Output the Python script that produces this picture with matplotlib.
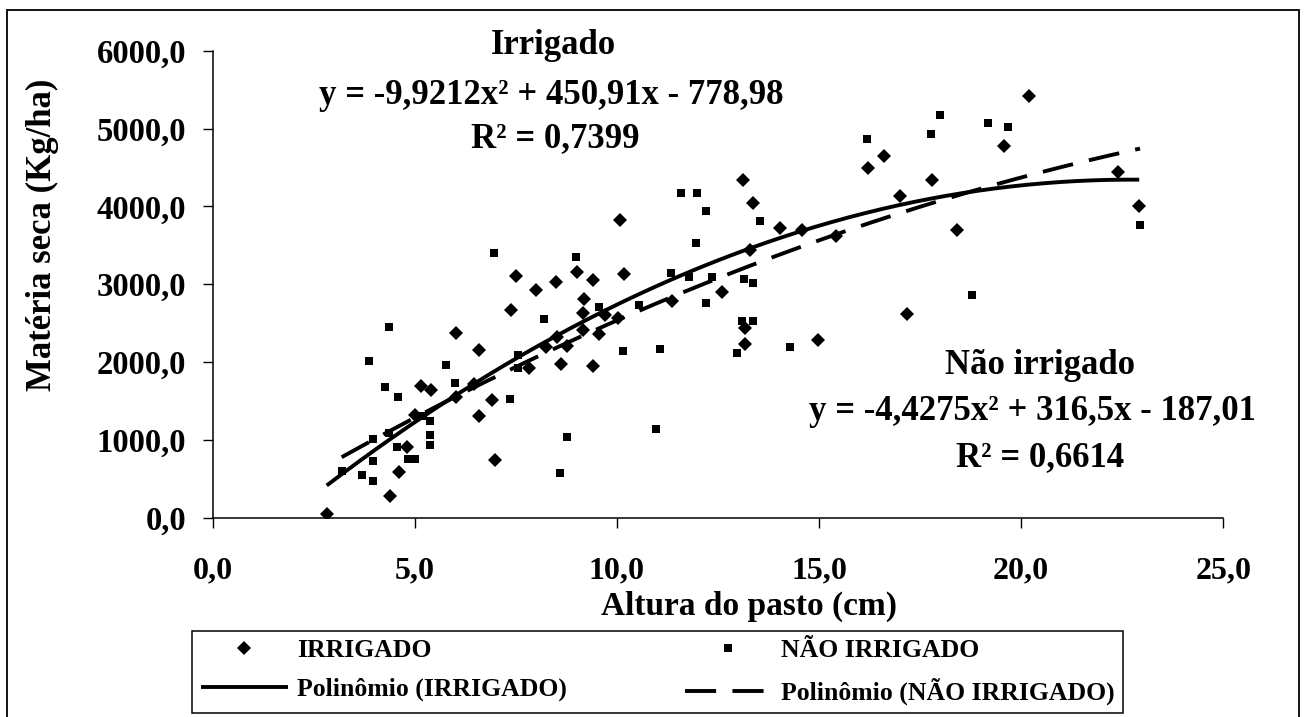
import numpy as np
import matplotlib
matplotlib.use("Agg")
import matplotlib.pyplot as plt
from matplotlib.patches import Rectangle

# ---------------- data ----------------
irr_x = [2.82, 4.39, 4.61, 4.80, 5.00, 5.16, 5.41, 6.01, 6.02, 6.59, 6.46, 6.59,
         6.92, 6.98, 7.37, 7.50, 7.83, 8.00, 8.25, 8.49, 8.51, 8.62, 8.77, 9.00,
         9.17, 9.17, 9.18, 9.40, 9.41, 9.56, 9.71, 10.03, 10.08, 10.18, 11.36,
         12.61, 13.11, 13.37, 13.29, 13.17, 13.17, 14.04, 14.57, 14.98, 15.42,
         16.21, 16.61, 17.00, 17.17, 17.79, 18.42, 19.58, 20.20, 22.40, 22.92]
irr_y = [48, 279, 583, 913, 1320, 1697, 1641, 1555, 2378, 2155, 1718, 1307,
         1513, 742, 2674, 3107, 1920, 2927, 2198, 3034, 2327, 1975, 2211, 3162,
         2413, 2627, 2807, 1954, 3055, 2357, 2605, 2563, 3824, 3132, 2785,
         2897, 4341, 4049, 3441, 2434, 2233, 3728, 3698, 2284, 3621,
         4491, 4649, 4139, 2614, 4341, 3698, 4778, 5424, 4443, 4006]

nirr_x = [3.19, 3.69, 3.86, 3.97, 3.97, 3.97, 4.25, 4.36, 4.37, 4.58, 4.57,
          4.84, 5.00, 5.20, 5.38, 5.38, 5.38, 5.77, 5.99, 6.95, 7.36, 7.56,
          7.56, 8.20, 8.59, 8.76, 8.98, 9.55, 10.16, 10.55, 10.96, 11.07, 11.34,
          11.58, 11.79, 11.96, 11.97, 12.20, 12.20, 12.36, 12.98, 13.09, 13.14,
          13.37, 13.37, 13.55, 14.28, 16.18, 17.76, 17.99, 18.78, 19.17, 19.68,
          22.94]
nirr_y = [604, 549, 2014, 1012, 733, 472, 1684, 2451, 1093, 1551, 913,
          754, 754, 1310, 1243, 1063, 935, 1959, 1727, 3402, 1526, 2091,
          1920, 2554, 570, 1037, 3351, 2708, 2142, 2730, 1140, 2168, 3145,
          4177, 3090, 3531, 4177, 3942, 2760, 3098, 2113, 2532, 3068,
          2532, 3021, 3814, 2198, 4868, 4928, 5180, 2862, 5077, 5026,
          3762]

irr_coef = [-9.9212, 450.91, -778.98]
nirr_coef = [-4.4275, 316.5, -187.01]

x_ticks = [0, 5, 10, 15, 20, 25]
x_tick_labels = ["0,0", "5,0", "10,0", "15,0", "20,0", "25,0"]
y_ticks = [0, 1000, 2000, 3000, 4000, 5000, 6000]
y_tick_labels = ["0,0", "1000,0", "2000,0", "3000,0", "4000,0", "5000,0", "6000,0"]

series_labels = ["IRRIGADO", "NÃO IRRIGADO",
                 "Polinômio (IRRIGADO)", "Polinômio (NÃO IRRIGADO)"]

# ---------------- figure ----------------
plt.rcParams["font.family"] = ["Liberation Serif", "DejaVu Serif"]
plt.rcParams["font.weight"] = "bold"

W, H = 1308, 717
fig = plt.figure(figsize=(W / 100, H / 100), dpi=100)
fig.patch.set_facecolor("white")


def fx(px):
    return px / W


def fy(py):
    return 1 - py / H


ax_l, ax_r, ax_t, ax_b = 212.7, 1223.3, 50.8, 517.7
ax = fig.add_axes([fx(ax_l), fy(ax_b), (ax_r - ax_l) / W, (ax_b - ax_t) / H])
ax.set_xlim(0, 25)
ax.set_ylim(0, 6000)
for s in ("top", "right"):
    ax.spines[s].set_visible(False)
for s in ("left", "bottom"):
    ax.spines[s].set_linewidth(1.1)
    ax.spines[s].set_color("black")

ax.set_xticks(x_ticks)
ax.set_xticklabels(x_tick_labels)
ax.set_yticks(y_ticks)
ax.set_yticklabels(y_tick_labels)
ax.tick_params(axis="x", direction="out", length=7, width=1, labelsize=23, pad=21)
ax.tick_params(axis="y", direction="out", length=7, width=1, labelsize=23.5, pad=12)
for lab in ax.get_xticklabels() + ax.get_yticklabels():
    lab.set_fontweight("bold")

# scatter
h1, = ax.plot(irr_x, irr_y, linestyle="none", marker="D", ms=7.4,
              mfc="black", mec="black", mew=0, label=series_labels[0], zorder=3)
h2, = ax.plot(nirr_x, nirr_y, linestyle="none", marker="s", ms=6.3,
              mfc="black", mec="black", mew=0, label=series_labels[1], zorder=3)

# trendlines
xs1 = np.linspace(min(irr_x), max(irr_x), 300)
xs2 = np.linspace(min(nirr_x), max(nirr_x), 300)
h3, = ax.plot(xs1, np.polyval(irr_coef, xs1), color="black", lw=2.8,
              label=series_labels[2], zorder=4, solid_capstyle="butt")
h4, = ax.plot(xs2, np.polyval(nirr_coef, xs2), color="black", lw=2.8,
              dashes=(8.0, 4.2), label=series_labels[3], zorder=4,
              dash_capstyle="butt")

# axis titles
fig.text(fx(42), fy(235), "Matéria seca (Kg/ha)", rotation=90, ha="center",
         va="center", fontsize=25, fontweight="bold")
fig.text(fx(749), fy(615), "Altura do pasto (cm)", ha="center", va="baseline",
         fontsize=24, fontweight="bold")

# equations
fig.text(fx(553), fy(45), "Irrigado", ha="center", va="center", fontsize=25,
         fontweight="bold")
fig.text(fx(551), fy(95), "y = -9,9212x² + 450,91x - 778,98", ha="center",
         va="center", fontsize=25, fontweight="bold")
fig.text(fx(555), fy(139), "R² = 0,7399", ha="center", va="center",
         fontsize=25, fontweight="bold")

fig.text(fx(1040), fy(365), "Não irrigado", ha="center", va="center",
         fontsize=25, fontweight="bold")
fig.text(fx(1032), fy(412), "y = -4,4275x² + 316,5x - 187,01", ha="center",
         va="center", fontsize=25, fontweight="bold")
fig.text(fx(1040), fy(458), "R² = 0,6614", ha="center", va="center",
         fontsize=25, fontweight="bold")

# legend
leg_l, leg_r, leg_t, leg_b = 192.3, 1123.0, 630.7, 714.0
leg = fig.legend(handles=[h1, h3, h2, h4],
                 labels=[series_labels[0], series_labels[2],
                         series_labels[1], series_labels[3]],
                 ncol=2, loc="upper left",
                 bbox_to_anchor=(fx(leg_l), fy(leg_b), (leg_r - leg_l) / W,
                                 (leg_b - leg_t) / H),
                 bbox_transform=fig.transFigure, mode="expand",
                 borderaxespad=0, fancybox=False, shadow=False,
                 framealpha=1, edgecolor="black",
                 prop={"family": ["Liberation Serif"], "weight": "bold",
                       "size": 18.5},
                 handlelength=3.4, handletextpad=0.35, labelspacing=0.6,
                 borderpad=0.33, numpoints=1, columnspacing=2.0)
leg.get_frame().set_linewidth(1.1)

# outer chart frame
fig.patches.append(Rectangle((fx(7.3), fy(760)), (1299 - 7.3) / W,
                             (760 - 10) / H, transform=fig.transFigure,
                             fill=False, edgecolor="black", linewidth=1.3,
                             clip_on=False))

fig.savefig("out.png", dpi=100)
